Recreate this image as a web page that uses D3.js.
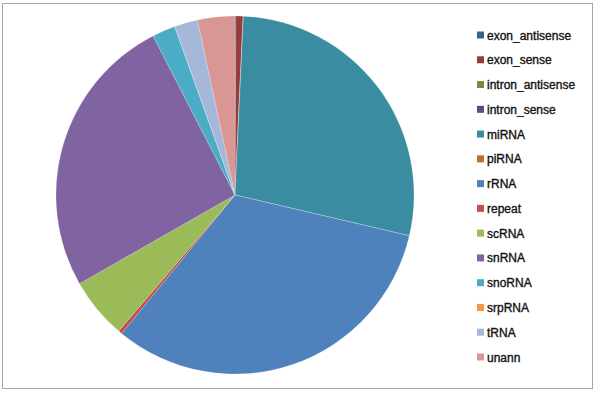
<!DOCTYPE html>
<html>
<head>
<meta charset="utf-8">
<script src="https://cdn.jsdelivr.net/npm/d3@7"></script>
<style>
  body { margin: 0; background: #fff; }
  svg { display: block; }
</style>
</head>
<body>
<svg width="597" height="394"></svg>
<script>
  // categories and share of reads (%)
  const categories = [
    "exon_antisense", "exon_sense", "intron_antisense", "intron_sense",
    "miRNA", "piRNA", "rRNA", "repeat", "scRNA", "snRNA",
    "snoRNA", "srpRNA", "tRNA", "unann"
  ];
  const values = [
    0.08, 0.65, 0.01, 0.01,
    27.9, 0.01, 32.25, 0.33, 5.5, 25.67,
    2.1, 0.01, 2.1, 3.36
  ];
  const colors = [
    "#3b618e", "#963c3a", "#748c43", "#604b7a", "#3a8ca0", "#b97134",
    "#4f81bd", "#c0504d", "#9bbb59", "#8064a2", "#4bacc6", "#f79646",
    "#a5b8da", "#d99694"
  ];

  const data = categories.map((c, i) => ({ name: c, value: values[i] }));

  const svg = d3.select("svg");

  // chart frame
  svg.append("rect")
    .attr("x", 2.5).attr("y", 3.5)
    .attr("width", 590).attr("height", 385)
    .attr("fill", "#fff")
    .attr("stroke", "#a6a6a6");

  const color = d3.scaleOrdinal().domain(categories).range(colors);

  const pie = d3.pie().value((d) => d.value).sort(null);
  const arc = d3.arc().innerRadius(0).outerRadius(179);

  const pieG = svg.append("g").attr("transform", "translate(235, 195)");
  pieG.selectAll("path")
    .data(pie(data))
    .enter()
    .append("path")
    .attr("d", arc)
    .attr("fill", (d) => color(d.data.name))
    .attr("stroke", "#fff")
    .attr("stroke-opacity", 0.35)
    .attr("stroke-width", 0.5);

  // legend
  const legendY = d3.scalePoint().domain(categories).range([35, 357]);
  const legend = svg.append("g")
    .selectAll("g")
    .data(categories)
    .enter()
    .append("g")
    .attr("transform", (d) => `translate(477, ${legendY(d)})`);
  legend.append("rect")
    .attr("x", 0).attr("y", -3.5)
    .attr("width", 7).attr("height", 7)
    .attr("fill", (d) => color(d));
  legend.append("text")
    .attr("x", 10).attr("y", 4.5)
    .attr("font-family", "Liberation Sans, Arial, sans-serif")
    .attr("font-size", 12)
    .attr("fill", "#111")
    .attr("stroke", "#111")
    .attr("stroke-width", 0.35)
    .text((d) => d);
</script>
</body>
</html>
